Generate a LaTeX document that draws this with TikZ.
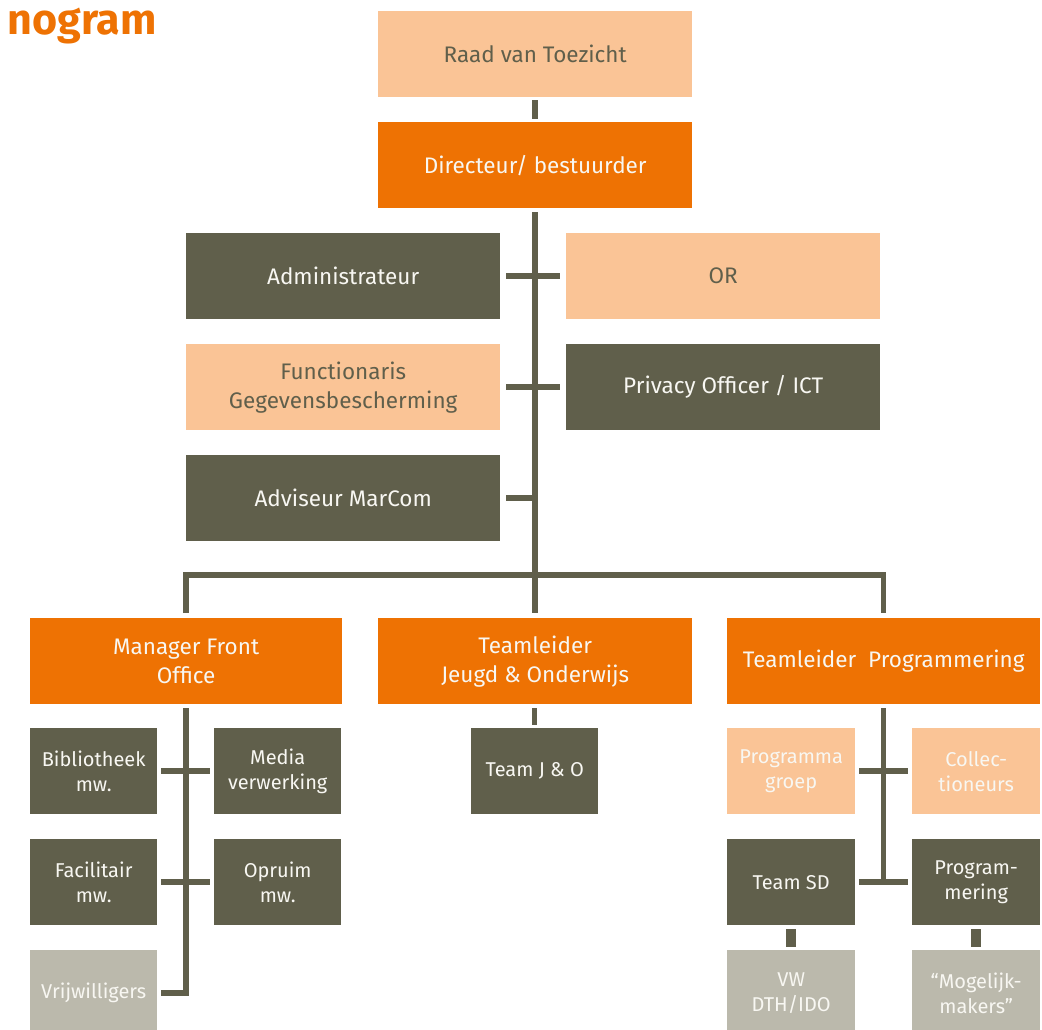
\documentclass[tikz,border=0pt]{standalone}
\usepackage{fontspec}
\setmainfont{Fira Sans}
\usetikzlibrary{calc}
\definecolor{orng}{HTML}{EE7203}
\definecolor{lorng}{HTML}{FAC496}
\definecolor{dark}{HTML}{605F4B}
\definecolor{lgrey}{HTML}{BBB9AC}
\definecolor{wtxt}{HTML}{F8F7F2}
\begin{document}
\begin{tikzpicture}[x=1pt,y=-1pt,
  box/.style={anchor=north west, inner sep=0pt, align=center, font=\fontsize{22.5}{29}\selectfont},
  big/.style={box, minimum width=314pt, minimum height=86pt},
  small/.style={box, minimum width=127pt, minimum height=86pt, font=\fontsize{20}{25}\selectfont},
  orbox/.style={fill=orng, text=wtxt},
  lobox/.style={fill=lorng, text=dark},
  lowbox/.style={fill=lorng, text=wtxt},
  dkbox/.style={fill=dark, text=wtxt},
  grbox/.style={fill=lgrey, text=wtxt},
  conn/.style={draw=dark, line width=5.5pt, line join=miter},
  thick conn/.style={draw=dark, line width=10pt}]
\useasboundingbox (0,0) rectangle (1042,1030);

\node[anchor=base east, inner sep=0pt, text=orng, font=\fontsize{43}{43}\selectfont\bfseries] (title) at (157,35) {nogram};

% top
\node[big, lobox] (raad) at (378,11) {Raad van Toezicht};
\node[big, orbox] (dir) at (378,122) {Directeur/ bestuurder};
\node[big, dkbox] (admin) at (186,233) {Administrateur};
\node[big, lobox] (or) at (566,233) {OR};
\node[big, lobox] (func) at (186,344) {Functionaris\\Gegevensbescherming};
\node[big, dkbox] (priv) at (566,344) {Privacy Officer / ICT};
\node[big, dkbox] (adv) at (186,455) {Adviseur MarCom};

% managers
\node[big, orbox, minimum width=312pt] (mfo) at (30,618) {Manager Front\\Office};
\node[big, orbox] (tjo) at (378,618) {Teamleider\\Jeugd \& Onderwijs};
\node[big, orbox, minimum width=313pt] (tp) at (727,618) {Teamleider\ \ Programmering};

% left sub
\node[small, dkbox] (bib) at (30,728) {Bibliotheek\\mw.};
\node[small, dkbox] (media) at (214,728) {Media\\verwerking};
\node[small, dkbox] (fac) at (30,839) {Facilitair\\mw.};
\node[small, dkbox] (opr) at (214,839) {Opruim\\mw.};
\node[small, grbox] (vrij) at (30,950) {Vrijwilligers};

% middle sub
\node[small, dkbox] (jo) at (471,728) {Team J \& O};

% right sub
\node[small, lowbox, minimum width=128pt] (pg) at (727,728) {Programma\\groep};
\node[small, lowbox, minimum width=128pt] (coll) at (912,728) {Collec-\\tioneurs};
\node[small, dkbox, minimum width=128pt] (sd) at (727,839) {Team SD};
\node[small, dkbox, minimum width=128pt] (prog) at (912,839) {Program-\\mering};
\node[small, grbox, minimum width=128pt] (vw) at (727,950) {VW\\DTH/IDO};
\node[small, grbox, minimum width=128pt] (mog) at (912,950) {“Mogelijk-\\makers”};

% connectors top
\draw[conn] ([yshift=-3pt]raad.south) -- ([yshift=3pt]dir.north);
\draw[conn] ([yshift=-4pt]dir.south) -- ([yshift=5pt]tjo.north);
\draw[conn] ([xshift=6pt]admin.east) -- ([xshift=-6pt]or.west);
\draw[conn] ([xshift=6pt]func.east) -- ([xshift=-6pt]priv.west);
\draw[conn] ([xshift=6pt]adv.east) -- (adv.east -| dir.south);
\coordinate (bus) at (535,575);
\draw[conn] ([yshift=5pt]mfo.north) |- (bus) -| ([yshift=5pt]tp.north);

% left sub connectors
\draw[conn] ([yshift=-4pt]mfo.south) |- ([xshift=4pt]vrij.east);
\draw[conn] ([xshift=4pt]bib.east) -- ([xshift=-4pt]media.west);
\draw[conn] ([xshift=4pt]fac.east) -- ([xshift=-4pt]opr.west);

% middle
\draw[conn] ($(jo.north |- tjo.south)+(0,4)$) -- ([yshift=3pt]jo.north);

% right sub connectors
\draw[conn] ([yshift=-4pt]tp.south) -- (tp.south |- sd.east);
\draw[conn] ([xshift=4pt]pg.east) -- ([xshift=-4pt]coll.west);
\draw[conn] ([xshift=4pt]sd.east) -- ([xshift=-4pt]prog.west);
\draw[thick conn] ([yshift=-4pt]sd.south) -- ([yshift=3pt]vw.north);
\draw[thick conn] ([yshift=-4pt]prog.south) -- ([yshift=3pt]mog.north);
\end{tikzpicture}
\end{document}
